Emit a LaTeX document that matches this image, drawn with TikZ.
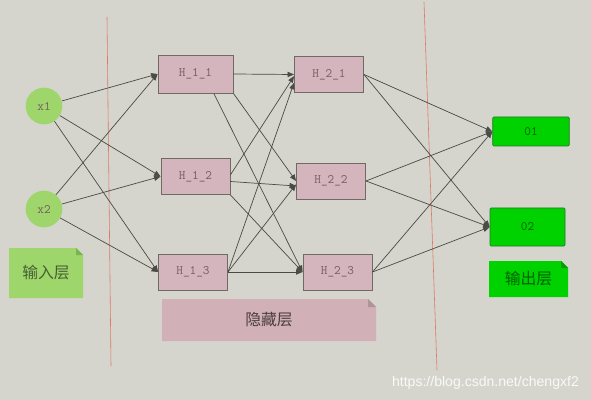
\documentclass[tikz,border=0pt]{standalone}
\usepackage{fontspec}
\newfontfamily\cjk{Noto Sans CJK SC}
\setsansfont{Liberation Sans}
\usetikzlibrary{arrows.meta}
\definecolor{bgcol}{RGB}{213,212,205}
\definecolor{pinkfill}{RGB}{212,181,189}
\definecolor{pinknote}{RGB}{210,176,184}
\definecolor{pinkfold}{RGB}{176,148,156}
\definecolor{boxline}{RGB}{112,106,100}
\definecolor{boxtext}{RGB}{120,92,98}
\definecolor{ingreen}{RGB}{158,214,108}
\definecolor{ingreenfold}{RGB}{120,180,80}
\definecolor{outgreen}{RGB}{0,210,0}
\definecolor{outgreenfold}{RGB}{0,160,0}
\definecolor{outline}{RGB}{40,120,40}
\definecolor{redline}{RGB}{222,120,105}
\definecolor{arrowcol}{RGB}{72,76,68}
\tikzset{
  neuron/.style={circle, fill=ingreen, minimum size=1.1cm, inner sep=0pt,
    font=\ttfamily\fontsize{11}{13}\selectfont, text=boxtext},
  hidden/.style={rectangle, draw=boxline, line width=0.8pt, fill=pinkfill,
    minimum width=2.07cm, minimum height=1.08cm, inner sep=0pt,
    font=\ttfamily\fontsize{11}{13}\selectfont, text=boxtext},
  output/.style={rectangle, draw=outline, line width=0.6pt, fill=outgreen,
    rounded corners=1pt, minimum width=2.3cm, inner sep=0pt,
    font=\ttfamily\fontsize{11}{13}\selectfont, text=black!55!outgreen},
  link/.style={draw=arrowcol, line width=0.6pt, -{Triangle[length=5.5pt,width=4.5pt]}},
  layer/.style={draw=redline, line width=0.5pt},
  notetext/.style={font=\cjk\fontsize{13.5}{16}\selectfont, inner sep=0pt}
}
\begin{document}
\begin{tikzpicture}[x=0.03cm, y=-0.03cm]
  \fill[bgcol] (0,0) rectangle (591,400);
  \useasboundingbox (0,0) rectangle (591,400);
  % layer separators
  \draw[layer] (107,17) -- (111,366);
  \draw[layer] (424,2) -- (437,370);
  % input layer
  \node[neuron] (x1) at (44,106) {x1};
  \node[neuron] (x2) at (44,209) {x2};
  % hidden layer 1
  \node[hidden, minimum width=2.25cm, minimum height=1.14cm] (h11) at (195.5,74) {H\_1\_1};
  \node[hidden] (h12) at (195.5,176.5) {H\_1\_2};
  \node[hidden] (h13) at (193,272) {H\_1\_3};
  % hidden layer 2
  \node[hidden] (h21) at (329,74.5) {H\_2\_1};
  \node[hidden] (h22) at (331,181) {H\_2\_2};
  \node[hidden] (h23) at (337.5,272) {H\_2\_3};
  % output layer
  \node[output, minimum height=0.87cm] (o1) at (531,131.5) {01};
  \node[output, minimum width=2.25cm, minimum height=1.14cm] (o2) at (527.5,227) {02};
  % notes
  \fill[ingreen] (9,248) -- (76,248) -- (83,255) -- (83,298) -- (9,298) -- cycle;
  \fill[ingreenfold] (76,248) -- (76,255) -- (83,255) -- cycle;
  \node[notetext, text=black!55!ingreen] (inlabel) at (46,273) {输入层};
  \fill[pinknote] (162,299) -- (368,299) -- (376,307) -- (376,341) -- (162,341) -- cycle;
  \fill[pinkfold] (368,299) -- (368,307) -- (376,307) -- cycle;
  \node[notetext, text=black!65!pinknote] (hidlabel) at (269,320) {隐藏层};
  \fill[outgreen] (489,261) -- (561,261) -- (568,268) -- (568,297) -- (489,297) -- cycle;
  \fill[outgreenfold] (561,261) -- (561,268) -- (568,268) -- cycle;
  \node[notetext, text=black!55!outgreen] (outlabel) at (528.5,279) {输出层};
  % input -> hidden 1
  \foreach \src in {x1,x2}
    \foreach \dst in {h11,h12,h13}
      \draw[link] (\src) -- (\dst.west);
  % hidden 1 -> hidden 2
  \draw[link] (h11.east) -- (h21.west);
  \draw[link] (h11.south east) -- (h22.west);
  \draw[link] ([xshift=0.55cm]h11.south) -- (h23.west);
  \draw[link] ([yshift=0.05cm]h12.east) -- ([yshift=-0.05cm]h21.west);
  \draw[link] ([yshift=-0.15cm]h12.east) -- ([yshift=-0.15cm]h22.west);
  \draw[link] (h12.south east) -- (h23.west);
  \draw[link] (h13.east) -- ([yshift=-0.25cm]h21.west);
  \draw[link] (h13.east) -- ([yshift=-0.1cm]h22.west);
  \draw[link] (h13.east) -- (h23.west);
  % hidden 2 -> output
  \foreach \src in {h21,h22,h23}
    \foreach \dst in {o1,o2}
      \draw[link] (\src.east) -- (\dst.west);
  % watermark
  \node[font=\sffamily\fontsize{12}{14}\selectfont, text=white!85!bgcol, anchor=east] (mark) at (583,383) {https://blog.csdn.net/chengxf2};
\end{tikzpicture}
\end{document}
